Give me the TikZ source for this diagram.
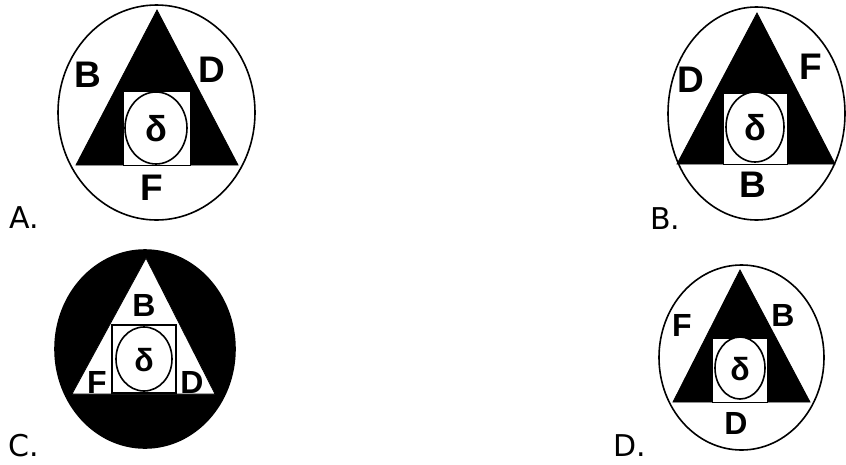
\documentclass[tikz,border=0pt]{standalone}
\usepackage{fontspec}
\newfontfamily\labfont{Liberation Sans}
\newfontfamily\optfont{DejaVu Sans}
\begin{document}
\begin{tikzpicture}[x=1pt,y=-1pt,
  outer/.style={draw=black,line width=1.6pt,fill=white},
  outerblack/.style={draw=black,line width=1.6pt,fill=black},
  tri/.style={fill=black,draw=black,line width=0.8pt,line join=miter},
  tribw/.style={fill=white,draw=black,line width=0.8pt},
  sq/.style={fill=white,draw=black,line width=1pt},
  sqc/.style={fill=white,draw=black,line width=2pt},
  inner/.style={draw=black,line width=1.6pt,fill=white},
  lab/.style={font=\labfont\bfseries\fontsize{37}{37}\selectfont,inner sep=0pt},
  labs/.style={font=\labfont\bfseries\fontsize{32}{32}\selectfont,inner sep=0pt},
  del/.style={font=\labfont\bfseries\fontsize{36}{36}\selectfont,inner sep=0pt},
  dels/.style={font=\labfont\bfseries\fontsize{32}{32}\selectfont,inner sep=0pt},
  opt/.style={font=\optfont\fontsize{30}{30}\selectfont,inner sep=0pt,anchor=base west}]
\useasboundingbox (0,0) rectangle (846,464);
\fill[white] (0,0) rectangle (846,464);
% ---------- A ----------
\draw[outer] (156.5,112.5) ellipse [x radius=98.5,y radius=107.5];
\draw[tri] (157,10) -- (238,165) -- (76,165) -- cycle;
\draw[sq] (123,91) rectangle (190,165);
\draw[inner] (156,128) ellipse [x radius=31,y radius=36];
\node[lab] (aB) at (88,75) {B};
\node[lab] (aD) at (212,70) {D};
\node[lab] (aF) at (152,188) {F};
\node[del] (ad) at (156,129) {δ};
\node[opt] (aL) at (9,228) {A.};
% ---------- B ----------
\draw[outer] (756.5,113.5) ellipse [x radius=88.5,y radius=106.5];
\draw[tri] (757,13) -- (835,164) -- (677,164) -- cycle;
\draw[sq] (723,93) rectangle (787,164);
\draw[inner] (755,127) ellipse [x radius=29,y radius=35];
\node[lab] (bD) at (691,80) {D};
\node[lab] (bF) at (811,67) {F};
\node[lab] (bB) at (753,185) {B};
\node[del] (bd) at (755,128) {δ};
\node[opt] (bL) at (650,229) {B.};
% ---------- C ----------
\draw[outerblack] (145,349) ellipse [x radius=90,y radius=99];
\draw[tribw] (146,258) -- (215,394) -- (72,394) -- cycle;
\draw[sqc] (112,325) rectangle (176,393);
\draw[inner] (144,359) ellipse [x radius=28,y radius=32];
\node[labs] (cB) at (144,305) {B};
\node[labs] (cF) at (97,382) {F};
\node[labs] (cD) at (192,382) {D};
\node[dels] (cd) at (144,360) {δ};
\node[opt] (cL) at (8,456) {C.};
% ---------- D ----------
\draw[outer] (741.5,357.5) ellipse [x radius=82.5,y radius=92.5];
\draw[tri] (740,270) -- (810,402) -- (673,402) -- cycle;
\draw[sq] (712,338) rectangle (767,402);
\draw[inner] (740,368) ellipse [x radius=25,y radius=31];
\node[labs] (dF) at (682,325) {F};
\node[labs] (dB) at (783,315) {B};
\node[labs] (dD) at (736,423) {D};
\node[dels] (dd) at (740,369) {δ};
\node[opt] (dL) at (613,456) {D.};
\end{tikzpicture}
\end{document}
